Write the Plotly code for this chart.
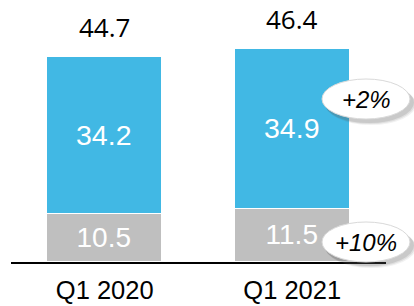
import plotly.graph_objects as go

categories = ["Q1 2020", "Q1 2021"]
base_values = [10.5, 11.5]
top_values = [34.2, 34.9]
totals = [44.7, 46.4]
growth_labels = ["+2%", "+10%"]

BLUE = "#41B8E4"
GRAY = "#BFBFBF"

fig = go.Figure()
fig.add_trace(go.Bar(
    x=categories, y=base_values, marker=dict(color=GRAY, line=dict(color="white", width=1.5)),
    text=[f"{v:.1f}" for v in base_values], textposition="inside", insidetextanchor="middle",
    textfont=dict(family="Liberation Sans", size=28, color="white"), width=0.613,
    constraintext="none", textangle=0, hoverinfo="skip",
))
fig.add_trace(go.Bar(
    x=categories, y=top_values, marker=dict(color=BLUE, line=dict(color="white", width=1.5)),
    text=[f"{v:.1f}" for v in top_values], textposition="inside", insidetextanchor="middle",
    textfont=dict(family="Liberation Sans", size=28.5, color="white"), width=0.613,
    constraintext="none", textangle=0, hoverinfo="skip",
))

for c, t in zip(categories, totals):
    fig.add_annotation(x=c, y=t, text=f"{t:.1f}", showarrow=False, yanchor="middle", yshift=30,
                       font=dict(family="Open Sans", size=26, color="black"))

# bubbles (paper coords)
W, H = 414, 306
L, R, T, B = 11, 28, 0, 44
pw, ph = W - L - R, H - T - B

def px2paper(px, py):
    return (px - L) / pw, 1 - (py - T) / ph

bubbles = [(366, 99, growth_labels[0]), (366, 242, growth_labels[1])]
for cx, cy, lab in bubbles:
    rx, ry = 44, 20
    # shadow layers
    for i, op in enumerate([0.08, 0.12, 0.16]):
        off = 5 - i
        x0, y0 = px2paper(cx - rx + off - 1, cy - ry + off)
        x1, y1 = px2paper(cx + rx + off + 1, cy + ry + off + 1)
        fig.add_shape(type="circle", xref="paper", yref="paper", x0=x0, y0=y1, x1=x1, y1=y0,
                      fillcolor=f"rgba(90,90,90,{op})", line=dict(width=0), layer="above")
    x0, y0 = px2paper(cx - rx, cy - ry)
    x1, y1 = px2paper(cx + rx, cy + ry)
    fig.add_shape(type="circle", xref="paper", yref="paper", x0=x0, y0=y1, x1=x1, y1=y0,
                  fillcolor="white", line=dict(color="#D9D9D9", width=1), layer="above")
    ax, ay = px2paper(cx, cy)
    fig.add_annotation(x=ax, y=ay, xref="paper", yref="paper", xanchor="center", yanchor="middle",
                       text=f"<i>{lab}</i>", showarrow=False,
                       font=dict(family="Liberation Sans", size=24, color="black"))

fig.update_layout(
    width=W, height=H, barmode="stack", showlegend=False,
    margin=dict(l=L, r=R, t=T, b=B), paper_bgcolor="white", plot_bgcolor="white",
    bargap=0, hovermode=False,
)
fig.update_xaxes(range=[-0.5, 1.5], showline=True, linecolor="black", linewidth=2, ticks="",
                 tickfont=dict(family="Liberation Sans", size=25.5, color="black"), showgrid=False,
                 automargin=False, ticklabelstandoff=4)
fig.update_yaxes(range=[0, 57.13], visible=False, showgrid=False)

fig.write_html("out.html", config={"displayModeBar": False},
               post_script="document.body.style.margin='0';")
